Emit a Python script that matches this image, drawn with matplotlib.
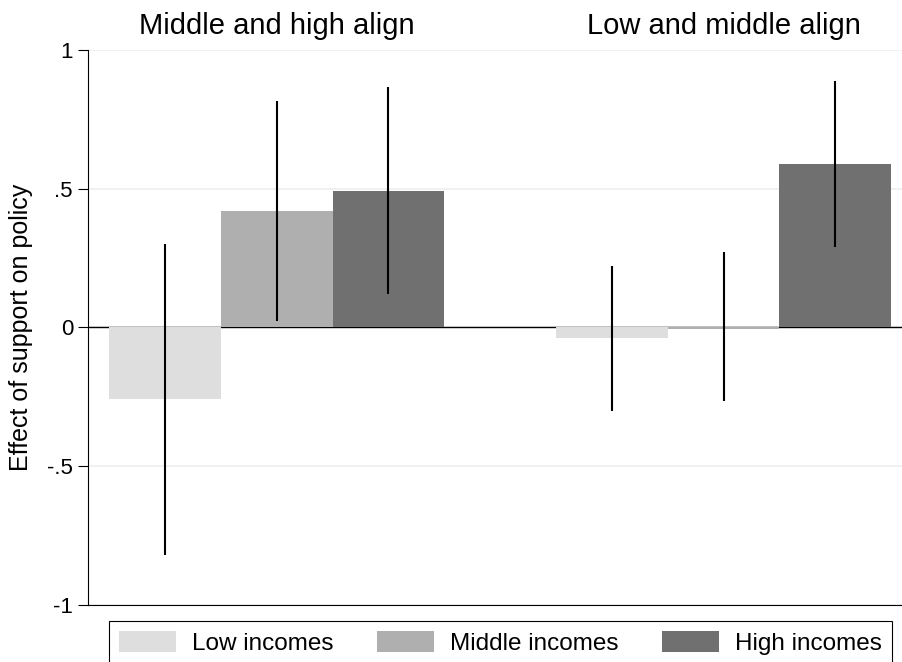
import numpy as np
import matplotlib
matplotlib.use("Agg")
import matplotlib.pyplot as plt
import matplotlib.transforms as mtransforms

plt.rcParams['font.family'] = ['Liberation Sans', 'DejaVu Sans']

# data
panels = ["Middle and high align", "Low and middle align"]
series = ["Low incomes", "Middle incomes", "High incomes"]
colors = ["#dedede", "#afafaf", "#707070"]

low_vals = [-0.259, -0.039]
mid_vals = [0.420, -0.005]
high_vals = [0.492, 0.588]

low_ci = [(-0.822, 0.302), (-0.302, 0.223)]
mid_ci = [(0.023, 0.817), (-0.265, 0.270)]
high_ci = [(0.119, 0.865), (0.289, 0.888)]

ytick_vals = [-1, -0.5, 0, 0.5, 1]
ytick_labels = ["-1", "-.5", "0", ".5", "1"]

fig = plt.figure(figsize=(9.02, 6.62), dpi=100)
ax = fig.add_axes([88 / 902, 57.3 / 662, 1 - 88 / 902, 554.7 / 662])

group_x = np.array([0.0, 4.0])  # left edge of each panel's bars
for i, (vals, ci) in enumerate(zip([low_vals, mid_vals, high_vals], [low_ci, mid_ci, high_ci])):
    x = group_x + i + 0.5
    ax.bar(x, vals, width=1.0, color=colors[i], label=series[i], zorder=2, linewidth=0)
    lo = np.array([c[0] for c in ci])
    hi = np.array([c[1] for c in ci])
    ax.vlines(x, lo, hi, color="black", linewidth=1.5, zorder=3)

ax.axhline(0, color="black", linewidth=1.0, zorder=1)

ax.set_xlim(-0.19, 7.097)
ax.set_ylim(-1, 1)
ax.set_yticks(ytick_vals)
ax.set_yticklabels(ytick_labels, fontsize=16)
ax.set_xticks([])
ax.tick_params(axis="y", direction="out", length=7.2, width=0.8, pad=3.6)
ax.yaxis.grid(True, color="#eeeeee", linewidth=1.1, zorder=0)
ax.set_axisbelow(True)

for s in ["top", "right"]:
    ax.spines[s].set_visible(False)
ax.spines["left"].set_linewidth(0.8)
ax.spines["bottom"].set_linewidth(0.8)

ax.set_ylabel("Effect of support on policy", fontsize=18)
ax.yaxis.set_label_coords(-0.0676, 0.5)

# panel titles centred over each group
trans = mtransforms.blended_transform_factory(ax.transData, fig.transFigure)
for gx, title in zip(group_x, panels):
    ax.text(gx + 1.5, (662 - 34.3) / 662, title, transform=trans, ha="center",
            va="baseline", fontsize=21)

leg = ax.legend(loc="upper left", bbox_to_anchor=(109.3 / 902, (662 - 621) / 662, (892 - 109.3) / 902, 0),
                bbox_transform=fig.transFigure, ncol=3, mode="expand", fontsize=17.5,
                handlelength=2.35, handleheight=1.0, handletextpad=0.66,
                fancybox=False, framealpha=1, edgecolor="black", borderpad=0.4,
                borderaxespad=0)
leg.get_frame().set_linewidth(0.8)

fig.savefig("out.png", dpi=100)
